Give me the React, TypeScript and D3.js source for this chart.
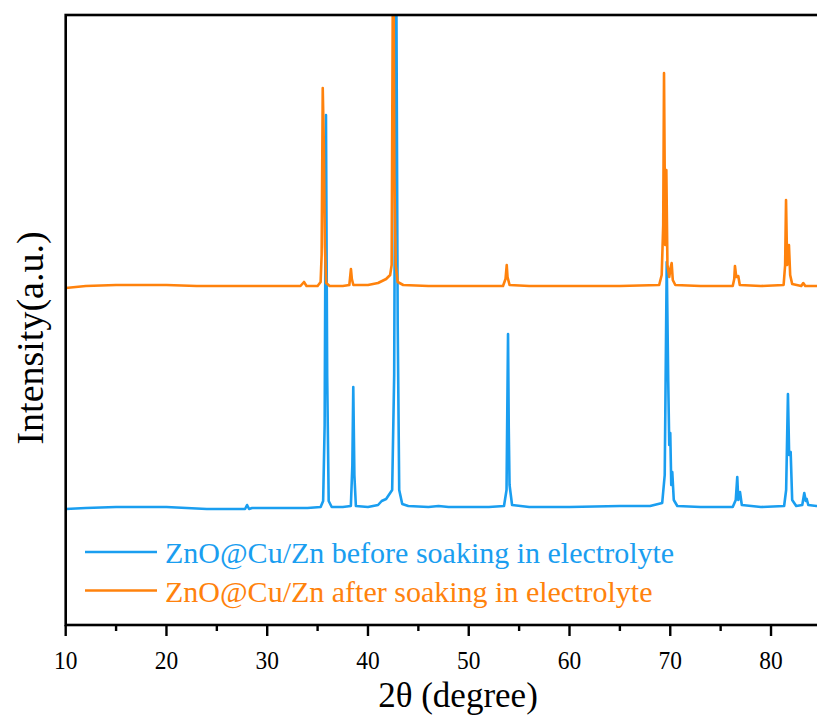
import * as d3 from "d3";

const width = 817;
const height = 720;

// plot frame in pixels
const left = 65.7;
const right = 821.4;
const top = 15;
const bottom = 625;

const blueColor = "#1A9EF0";
const orangeColor = "#FF820C";
const font = "Liberation Serif, Times New Roman, Times, serif";

const xTicks = [10, 20, 30, 40, 50, 60, 70, 80];
const xMinorTicks = [15, 25, 35, 45, 55, 65, 75];

const legendLabels = [
  "ZnO@Cu/Zn before soaking in electrolyte",
  "ZnO@Cu/Zn after soaking in electrolyte",
];

// 2θ / intensity (a.u.)
const beforeSoaking: [number, number][] = [
  [10, 116], [12, 117], [15, 118], [18, 118], [20, 118], [22, 117], [24, 116],
  [26, 116], [27.8, 116], [28.0, 120], [28.2, 116], [28.5, 117], [30, 117],
  [32, 117], [34, 117], [35.3, 118], [35.55, 124], [35.7, 200], [35.83, 510],
  [35.95, 250], [36.1, 124], [36.4, 118], [37.5, 118], [38.3, 119], [38.45, 160],
  [38.54, 238], [38.65, 150], [38.8, 119], [40, 118], [41, 120], [41.36, 124],
  [41.8, 126], [42.4, 135], [42.6, 250], [42.78, 720], [42.95, 300], [43.1, 135],
  [43.4, 121], [44, 119], [46, 118], [47, 119], [48, 118], [50, 118], [52, 118],
  [53.5, 119], [53.75, 135], [53.9, 291], [53.97, 198], [54.05, 140], [54.3, 120],
  [56, 118], [60, 118], [65, 119], [68, 119], [69.2, 122], [69.45, 150],
  [69.65, 363], [69.8, 243], [69.9, 180], [70.0, 192], [70.1, 140], [70.2, 153],
  [70.35, 125], [70.7, 119], [73, 118], [76.2, 118], [76.5, 125], [76.65, 148],
  [76.75, 125], [76.92, 133], [77.1, 120], [79, 118], [81.3, 119], [81.5, 135],
  [81.68, 231], [81.8, 170], [81.95, 173], [82.1, 125], [82.5, 119], [83.1, 120],
  [83.3, 132], [83.45, 124], [83.54, 126], [83.7, 120], [84.5, 119], [85, 119],
];

const afterSoaking: [number, number][] = [
  [10, 337], [12, 339], [15, 340], [18, 340], [20, 340], [23, 339], [26, 339],
  [29, 339], [32, 339], [33.3, 339], [33.65, 343], [33.9, 339], [35.0, 339],
  [35.3, 343], [35.4, 370], [35.51, 537], [35.62, 480], [35.72, 380], [35.85, 342],
  [36.2, 339], [37.5, 339], [38.15, 340], [38.25, 350], [38.31, 356], [38.4, 346],
  [38.55, 340], [40, 340], [41, 342], [41.8, 346], [42.2, 350], [42.35, 360],
  [42.45, 600], [42.51, 720], [42.62, 450], [42.75, 360], [42.95, 343], [43.5, 340],
  [46, 339], [50, 339], [53.4, 339], [53.65, 346], [53.77, 360], [53.85, 348],
  [54.05, 340], [56, 339], [60, 339], [65, 339], [68.9, 340], [69.15, 350],
  [69.3, 400], [69.38, 552], [69.5, 380], [69.61, 455], [69.72, 360], [69.9, 348],
  [70.05, 358], [70.14, 362], [70.25, 345], [70.5, 340], [73, 339], [76.2, 339],
  [76.35, 346], [76.42, 359], [76.55, 348], [76.75, 349], [76.9, 340], [79, 339],
  [81.25, 340], [81.4, 360], [81.49, 425], [81.6, 360], [81.78, 380], [81.9, 350],
  [82.1, 341], [83.0, 339], [83.2, 342], [83.4, 339], [85, 339],
];

export default function App() {
  const x = d3.scaleLinear().domain([10, 85]).range([left, right]);
  const y = d3.scaleLinear().domain([0, 610]).range([bottom, top]);

  const line = d3
    .line<[number, number]>()
    .x((d) => x(d[0]))
    .y((d) => y(d[1]));

  const textStyle = { fontFamily: font };

  return (
    <svg
      width={width}
      height={height}
      style={{ display: "block", position: "absolute", left: 0, top: 0 }}
    >
      <rect width={width} height={height} fill="#fff" />
      <defs>
        <clipPath id="plot">
          <rect x={left} y={top} width={right - left} height={bottom - top} />
        </clipPath>
      </defs>

      <g clipPath="url(#plot)" fill="none" strokeWidth={2.6} strokeLinejoin="round">
        <path d={line(beforeSoaking) ?? ""} stroke={blueColor} />
        <path d={line(afterSoaking) ?? ""} stroke={orangeColor} />
      </g>

      {/* frame */}
      <rect
        x={left}
        y={top}
        width={right - left}
        height={bottom - top}
        fill="none"
        stroke="#000"
        strokeWidth={2.6}
      />

      {/* x ticks */}
      <g stroke="#000" strokeWidth={2.4}>
        {xTicks.map((t) => (
          <line key={t} x1={x(t)} x2={x(t)} y1={bottom} y2={bottom + 11} />
        ))}
        {xMinorTicks.map((t) => (
          <line key={t} x1={x(t)} x2={x(t)} y1={bottom} y2={bottom + 6} />
        ))}
      </g>
      <g style={textStyle} fontSize={26} textAnchor="middle" fill="#000">
        {xTicks.map((t) => (
          <text key={t} transform={`translate(${x(t)},669) scale(0.9,1)`}>
            {t}
          </text>
        ))}
      </g>

      <text x={458} y={707} style={textStyle} fontSize={35} textAnchor="middle" fill="#000">
        2θ (degree)
      </text>
      <text
        transform={`translate(43,338) rotate(-90)`}
        style={textStyle}
        fontSize={38}
        textAnchor="middle"
        fill="#000"
      >
        Intensity(a.u.)
      </text>

      {/* legend */}
      {legendLabels.map((label, i) => {
        const color = i === 0 ? blueColor : orangeColor;
        const ly = 552 + i * 38.5;
        return (
          <g key={label}>
            <line x1={85} x2={157} y1={ly} y2={ly} stroke={color} strokeWidth={2.6} />
            <text x={165} y={ly + 11} style={textStyle} fontSize={30} fill={color}>
              {label}
            </text>
          </g>
        );
      })}
    </svg>
  );
}
